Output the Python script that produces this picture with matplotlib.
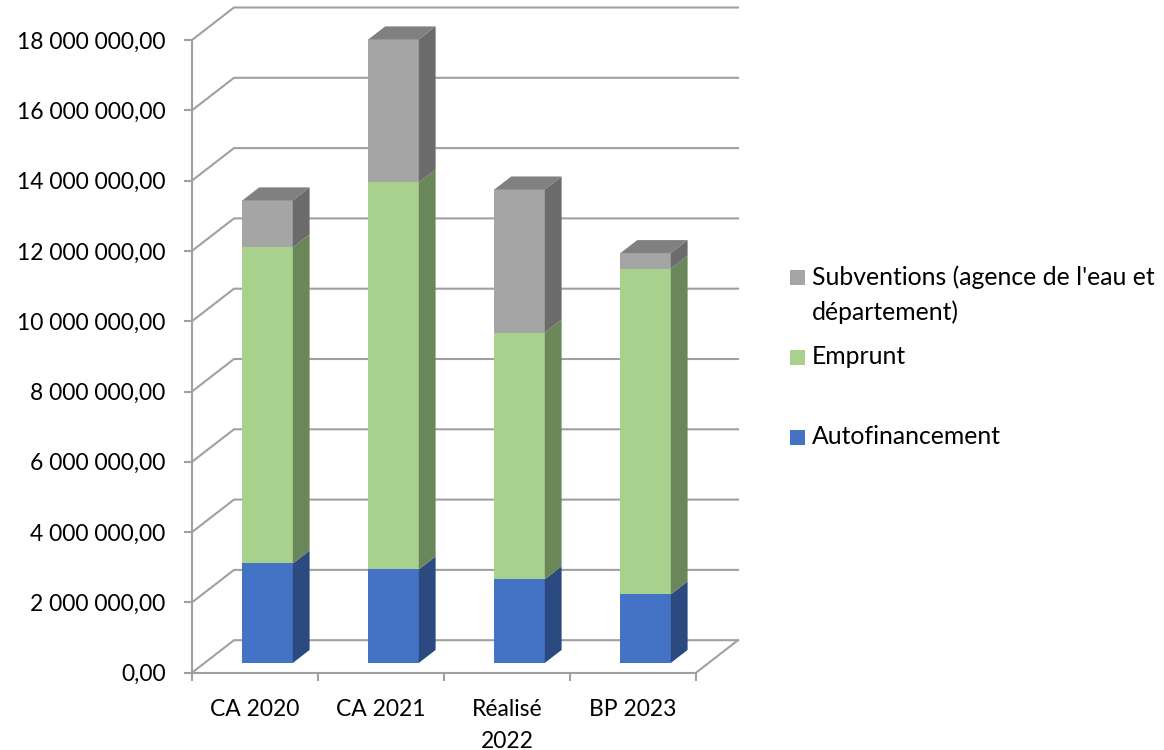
import matplotlib.pyplot as plt
from matplotlib.patches import Polygon, Rectangle
from matplotlib.ticker import FuncFormatter
import numpy as np

categories = ['CA 2020', 'CA 2021', 'Réalisé\n2022', 'BP 2023']
autofinancement = [2.83e6, 2.66e6, 2.38e6, 1.95e6]
emprunt = [8.99e6, 11.01e6, 7.02e6, 9.27e6]
subventions = [1.34e6, 4.07e6, 4.07e6, 0.44e6]
series_names = ["Subventions (agence de l'eau et\ndépartement)", 'Emprunt', 'Autofinancement']

# couleurs : face avant, côté, dessus
blue = ('#4472C4', '#2A4A80', '#3A63AC')
green = ('#A9D18E', '#6A8759', '#8BAE74')
grey = ('#A5A5A5', '#6B6B6B', '#808080')
grid_col = '#A0A0A0'

plt.rcParams['font.family'] = ['Lato', 'DejaVu Sans']
fs = 16.5
fs_leg = 17.8

fig = plt.figure(figsize=(11.64, 7.5), dpi=100)
ax = fig.add_axes([192 / 1164, (750 - 672.7) / 750, 504 / 1164, (672.7 - 40) / 750])
ax.set_xlim(0, 4)
ax.set_ylim(0, 18e6)

# profondeur du "3D"
Dx = 42 / 126
Dy = 32.5 / ((672.7 - 40) / 18e6)

yvals = np.arange(0, 18e6 + 1, 2e6)
for v in yvals:
    ax.plot([0, Dx, 4 + Dx], [v, v + Dy, v + Dy], color=grid_col, lw=1.5, clip_on=False, zorder=1)
ax.plot([4, 4 + Dx], [0, Dy], color=grid_col, lw=1.5, clip_on=False, zorder=1)

for s in ['top', 'right']:
    ax.spines[s].set_visible(False)
for s in ['left', 'bottom']:
    ax.spines[s].set_color(grid_col)
    ax.spines[s].set_linewidth(1.5)
ax.set_facecolor('none')

ax.set_yticks(yvals)
ax.yaxis.set_major_formatter(FuncFormatter(lambda v, p: f"{v:,.2f}".replace(',', ' ').replace('.', ',')))
ax.tick_params(axis='y', length=6, width=1.5, color=grid_col, pad=13, labelsize=fs)
ax.set_xticks(np.arange(0, 5))
ax.set_xticklabels([])
ax.set_xticks(np.arange(4) + 0.5, minor=True)
ax.set_xticklabels(categories, minor=True, fontsize=fs, linespacing=1.65)
ax.tick_params(axis='x', which='major', length=6, width=1.5, color=grid_col)
ax.tick_params(axis='x', which='minor', length=0, pad=19)

# barres empilées
w = 0.4
ox, oy = 0.3 * Dx, 0.3 * Dy
ddx, ddy = 0.4 * Dx, 0.4 * Dy
stacks = [(autofinancement, blue), (emprunt, green), (subventions, grey)]
for i in range(len(categories)):
    x0 = i + 0.5 - w / 2 + ox
    base = 0
    for k, (vals, col) in enumerate(stacks):
        b, t = base + oy, base + vals[i] + oy
        ax.add_patch(Rectangle((x0, b), w, t - b, facecolor=col[0], edgecolor='none', zorder=3, clip_on=False))
        ax.add_patch(Polygon([(x0 + w, b), (x0 + w + ddx, b + ddy), (x0 + w + ddx, t + ddy), (x0 + w, t)],
                             facecolor=col[1], edgecolor='none', zorder=3, clip_on=False))
        if k == len(stacks) - 1:
            ax.add_patch(Polygon([(x0, t), (x0 + w, t), (x0 + w + ddx, t + ddy), (x0 + ddx, t + ddy)],
                                 facecolor=col[2], edgecolor='none', zorder=3, clip_on=False))
        base += vals[i]

# légende
leg_items = [(series_names[0], grey[0], 277), (series_names[1], green[0], 357), (series_names[2], blue[0], 437)]
for name, col, ypx in leg_items:
    fig.patches.append(Rectangle((790 / 1164, (750 - ypx - 7.5) / 750), 15 / 1164, 15 / 750,
                                 facecolor=col, edgecolor='none', transform=fig.transFigure))
    fig.text(812 / 1164, (750 - ypx) / 750, name.split('\n')[0], fontsize=fs_leg, va='center', ha='left')
    if '\n' in name:
        fig.text(812 / 1164, (750 - ypx - 35) / 750, name.split('\n')[1], fontsize=fs_leg, va='center', ha='left')

fig.savefig('out.png', dpi=100)
